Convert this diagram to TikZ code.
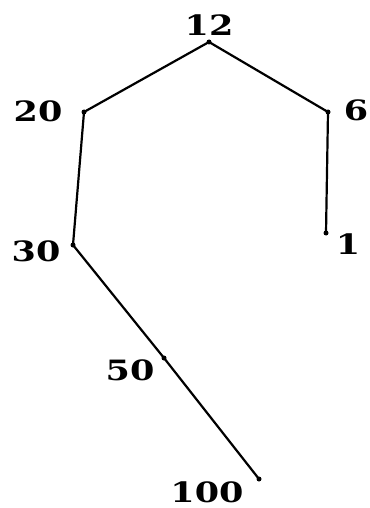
\documentclass[tikz,border=0pt]{standalone}
\usepackage{fontspec}
\setmainfont{DejaVu Serif}
\begin{document}
\begin{tikzpicture}[x=1pt,y=-1pt,
  lbl/.style={font=\fontsize{28}{28}\selectfont\bfseries, inner sep=0pt, xscale=1.25},
  edge/.style={line width=2.2pt, line cap=round, line join=round},
  dot/.style={circle, fill=black, inner sep=0pt, minimum size=5pt}]
\useasboundingbox (0,0) rectangle (369,508);
\node[dot] (n12) at (209,42) {};
\node[dot] (n20) at (84,112) {};
\node[dot] (n6) at (328,112) {};
\node[dot] (n1) at (326,233) {};
\node[dot] (n30) at (73,245) {};
\node[dot] (n50) at (164,358) {};
\node[dot] (n100) at (259,479) {};
\node[lbl] (t12) at (209,25) {12};
\node[lbl] (t20) at (38,111) {20};
\node[lbl] (t6) at (356,110) {6};
\node[lbl] (t1) at (348,244) {1};
\node[lbl] (t30) at (36,251) {30};
\node[lbl] (t50) at (130,370) {50};
\node[lbl] (t100) at (207,492) {100};
\draw[edge] (n12.center) -- (n20.center) -- (n30.center) -- (n50.center) -- (n100.center);
\draw[edge] (n12.center) -- (n6.center) -- (n1.center);
\end{tikzpicture}
\end{document}
